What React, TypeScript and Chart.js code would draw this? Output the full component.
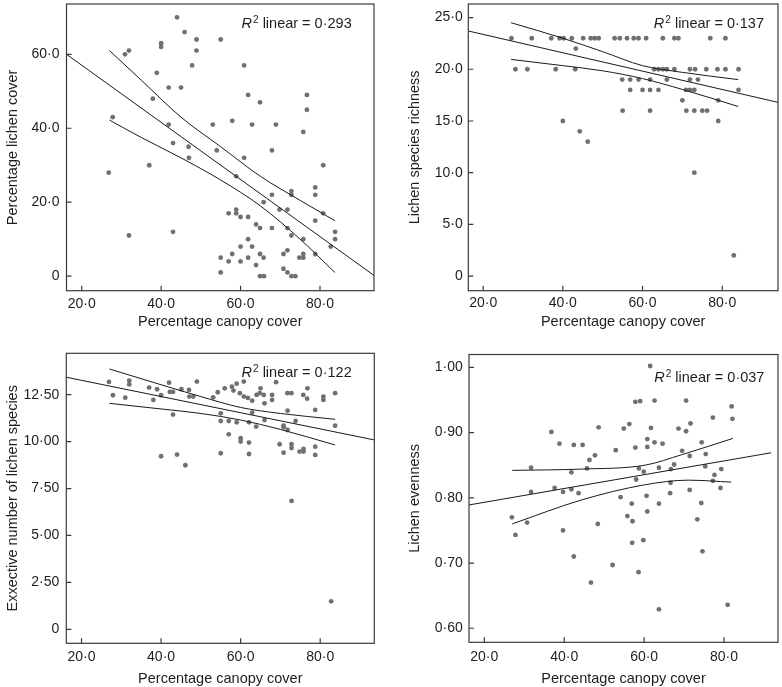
import React, { useEffect, useRef } from "react";
import { Chart, registerables } from "chart.js";

Chart.register(...registerables);

const FONT = '"Liberation Sans", Arial, Helvetica, sans-serif';
const TEXT = "#1e1e1e";
const POINT = "#707070";
const LINE = "#1a1a1a";
const FRAME = "#3a3a3a";

// ---------- shared x axis ----------
const X_TITLE = "Percentage canopy cover";
const X_TICKS = [20, 40, 60, 80];
const X_TICK_LABELS = ["20·0", "40·0", "60·0", "80·0"];

// ---------- panel 1: lichen cover ----------
const COVER_TITLE = "Percentage lichen cover";
const COVER_R2 = "0·293";
const COVER_Y_TICKS = [0, 20, 40, 60];
const COVER_Y_LABELS = ["0", "20·0", "40·0", "60·0"];
const COVER_POINTS: [number, number][] = [
  [44.0, 70], [45.9, 66], [48.9, 64], [48.9, 61], [40.0, 63], [40.0, 62], [30.9, 60], [31.9, 61],
  [47.8, 57], [38.9, 55], [41.9, 51], [45.0, 51], [37.9, 48], [27.8, 43], [41.9, 41], [43.0, 36],
  [46.9, 35], [47.0, 32], [37.0, 30], [26.8, 28], [43.0, 12], [31.9, 11],
  [55.0, 64], [60.9, 57], [61.9, 49], [64.9, 47], [76.7, 49], [76.7, 45], [57.9, 42], [53.0, 41],
  [62.9, 41], [68.9, 41], [75.8, 39], [54.0, 34], [67.9, 34], [60.9, 32], [80.8, 30], [58.9, 27],
  [78.8, 24], [78.8, 22], [72.8, 23], [72.8, 22], [67.9, 22], [65.8, 20], [69.8, 18], [71.8, 18],
  [80.8, 17], [57.0, 17], [58.9, 18], [58.9, 17], [60.0, 16], [61.9, 16], [63.9, 14], [64.9, 13],
  [67.9, 13], [71.8, 13], [78.8, 15], [72.8, 11], [83.8, 12], [83.8, 10], [75.8, 10], [82.7, 8],
  [61.9, 10], [60.0, 8], [62.9, 8], [71.8, 7], [70.8, 6], [64.9, 6], [65.8, 5], [75.8, 6],
  [74.8, 5], [75.8, 5], [78.8, 6], [55.0, 5], [57.0, 4], [57.9, 6], [60.0, 4], [61.9, 5],
  [63.9, 3], [55.0, 1], [64.9, 0], [65.9, 0], [70.8, 2], [71.8, 1], [72.8, 0], [73.8, 0],
];
const COVER_FIT_X = [16.17, 93.6];
const COVER_FIT_Y = [60.0, 0.2];
const COVER_BAND_X = [27, 35, 45, 55, 65, 75, 83.75];
const COVER_UPPER = [61, 53, 43, 35, 27, 20.5, 15];
const COVER_LOWER = [42.2, 37.5, 32, 26, 19, 10, 1];

// ---------- panel 2: species richness ----------
const RICH_TITLE = "Lichen species richness";
const RICH_R2 = "0·137";
const RICH_Y_TICKS = [0, 5, 10, 15, 20, 25];
const RICH_Y_LABELS = ["0", "5·0", "10·0", "15·0", "20·0", "25·0"];
const RICH_POINTS: [number, number][] = [
  [27.1, 23], [32.2, 23], [37.1, 23], [39.2, 23], [40.2, 23], [42.25, 23], [45.1, 23], [47, 23],
  [48, 23], [49, 23], [53, 23], [54.3, 23], [56.1, 23], [57.8, 23], [59, 23], [60.9, 23],
  [65.1, 23], [68, 23], [69, 23], [77, 23], [80.8, 23],
  [43.25, 22],
  [28.1, 20], [31.1, 20], [38.2, 20], [43.1, 20], [62.9, 20], [64, 20], [65.1, 20], [66.1, 20],
  [68, 20], [71.9, 20], [73.2, 20], [76, 20], [78.8, 20], [80.8, 20], [84.1, 20],
  [54.9, 19], [56.9, 19], [59, 19], [61.9, 19], [66.1, 19], [71.9, 19], [73.9, 19],
  [56.9, 18], [60, 18], [61.9, 18], [64, 18], [70.9, 18], [71.9, 18], [73, 18], [84.1, 18],
  [70, 17], [79, 17],
  [55, 16], [61.9, 16], [71, 16], [73, 16], [75, 16], [76.2, 16],
  [40, 15], [79, 15], [44.25, 14], [46.25, 13], [73, 10], [82.9, 2],
];
const RICH_FIT_X = [16.27, 94.0];
const RICH_FIT_Y = [23.7, 16.8];
const RICH_BAND_X = [27, 40, 50, 60, 70, 84];
const RICH_UPPER = [24.5, 23.0, 21.7, 20.35, 19.7, 19.0];
const RICH_LOWER = [20.95, 20.35, 19.85, 19.1, 18.05, 16.4];

// ---------- panel 3: effective number of species ----------
const EFF_TITLE = "Exxective number of lichen species";
const EFF_R2 = "0·122";
const EFF_Y_TICKS = [0, 2.5, 5, 7.5, 10, 12.5];
const EFF_Y_LABELS = ["0", "2·50", "5·00", "7·50", "10·00", "12·50"];
const EFF_POINTS: [number, number][] = [
  [26.9, 13.18], [27.9, 12.47], [31, 12.34], [32, 13.25], [32, 13.05], [37, 12.88], [39, 12.79],
  [38.05, 12.22], [40, 12.47], [42, 13.14], [42.2, 12.65], [43, 12.65], [43, 11.44], [45.1, 12.79],
  [47, 12.75], [47.1, 12.4], [48.1, 12.4], [49, 13.2], [40, 9.22], [44, 9.31], [46.1, 8.74],
  [53.1, 12.36], [54.25, 12.63], [56, 12.84], [59, 13.09], [60.8, 13.2], [57.8, 12.93], [58.2, 12.72],
  [59.8, 12.58], [60.8, 12.4], [61.8, 12.33], [62.9, 12.18], [65, 12.84], [64.8, 12.58], [64, 12.49],
  [65.8, 12.49], [66, 12.04], [67.9, 12.49], [67.9, 12.22], [68.9, 13.17], [71.75, 12.58],
  [72.75, 12.58], [76.8, 12.84], [75.75, 12.49], [76.7, 12.29], [80.8, 12.4], [80.8, 12.22],
  [83.75, 12.58],
  [55, 11.51], [55, 11.1], [57, 11.1], [59, 11.03], [57, 10.39], [60, 10.18], [60, 10.0],
  [62.1, 11.03], [62.1, 9.95], [62.9, 11.55], [63.9, 10.8], [66, 11.15], [71.8, 11.65],
  [70.8, 10.85], [70.8, 10.76], [71.8, 10.62], [73.8, 11.1], [78.75, 11.69], [83.75, 10.85],
  [69.8, 9.86], [70.8, 9.41], [72.8, 9.86], [72.8, 9.66], [74.8, 9.47], [75.8, 9.61], [75.8, 9.47],
  [78.75, 9.73], [78.75, 9.29], [55, 9.38], [62.1, 9.34], [72.8, 6.84], [82.75, 1.49],
];
const EFF_FIT_X = [16.17, 93.6];
const EFF_FIT_Y = [13.43, 10.09];
const EFF_BAND_X = [27, 40, 50, 60, 70, 83.75];
const EFF_UPPER = [13.87, 13.03, 12.4, 11.82, 11.5, 11.19];
const EFF_LOWER = [12.04, 11.74, 11.5, 11.15, 10.65, 9.82];

// ---------- panel 4: evenness ----------
const EVEN_TITLE = "Lichen evenness";
const EVEN_R2 = "0·037";
const EVEN_Y_TICKS = [0.6, 0.7, 0.8, 0.9, 1.0];
const EVEN_Y_LABELS = ["0·60", "0·70", "0·80", "0·90", "1·00"];
const EVEN_POINTS: [number, number][] = [
  [26.9, 0.77], [27.8, 0.743], [30.7, 0.762], [31.7, 0.846], [31.7, 0.809], [36.8, 0.901],
  [37.6, 0.815], [38.8, 0.883], [39.7, 0.809], [39.7, 0.75], [41.8, 0.839], [41.8, 0.813],
  [42.4, 0.881], [42.4, 0.71], [43.6, 0.807], [44.6, 0.881], [45.7, 0.845], [46.3, 0.858],
  [46.7, 0.67], [47.7, 0.865], [48.4, 0.76], [48.6, 0.908],
  [61.5, 1.002], [57.8, 0.947], [59.0, 0.948], [62.6, 0.949], [70.5, 0.949], [81.9, 0.94],
  [82.1, 0.921], [77.2, 0.923], [71.6, 0.914], [68.6, 0.906], [70.5, 0.902], [54.9, 0.906],
  [56.3, 0.913], [61.7, 0.907], [60.8, 0.89], [60.8, 0.878], [62.6, 0.885], [64.6, 0.883],
  [57.8, 0.877], [52.9, 0.873], [74.4, 0.885], [69.5, 0.872], [71.4, 0.864], [75.4, 0.867],
  [58.7, 0.845], [59.9, 0.84], [58.0, 0.828], [63.7, 0.846], [66.7, 0.844], [67.5, 0.851],
  [75.3, 0.848], [79.3, 0.844], [77.6, 0.835], [77.2, 0.826], [79.1, 0.815], [66.6, 0.823],
  [66.5, 0.807], [71.4, 0.812], [54.1, 0.801], [60.6, 0.803], [56.9, 0.791], [63.7, 0.791],
  [74.3, 0.792], [60.8, 0.779], [55.8, 0.772], [57.1, 0.764], [73.3, 0.767], [57.0, 0.731],
  [59.8, 0.735], [52.1, 0.697], [58.6, 0.686], [74.6, 0.718], [63.7, 0.629], [80.9, 0.636],
];
const EVEN_FIT_X = [16.17, 91.8];
const EVEN_FIT_Y = [0.789, 0.869];
const EVEN_UPPER_X = [27, 44.5, 60.25, 69.4, 82.2];
const EVEN_UPPER = [0.842, 0.844, 0.85, 0.866, 0.891];
const EVEN_LOWER_X = [27, 44.5, 60.25, 71, 81.8];
const EVEN_LOWER = [0.76, 0.797, 0.82, 0.827, 0.824];

type Box = { left: number; top: number; w: number; h: number };
type Area = { left: number; top: number; right: number; bottom: number };

type PanelSpec = {
  box: Box;
  area: Area;
  xRange: [number, number];
  yRange: [number, number];
  yTitle: string;
  yTicks: number[];
  yLabels: string[];
  points: [number, number][];
  lines: { xs: number[]; ys: number[]; curve: boolean }[];
  r2: string;
  r2RightInset: number;
  r2Baseline: number;
  yTitlePad: number;
  xTitlePad: number;
  xTickPad: number;
  yTickPad: number;
};

const PANELS: PanelSpec[] = [
  {
    box: { left: 0, top: 0, w: 391, h: 340 },
    area: { left: 66.5, top: 1, right: 374, bottom: 290.7 },
    xRange: [16.17, 93.6],
    yRange: [-3.93, 73.6],
    yTitle: COVER_TITLE,
    yTicks: COVER_Y_TICKS,
    yLabels: COVER_Y_LABELS,
    points: COVER_POINTS,
    lines: [
      { xs: COVER_FIT_X, ys: COVER_FIT_Y, curve: false },
      { xs: COVER_BAND_X, ys: COVER_UPPER, curve: true },
      { xs: COVER_BAND_X, ys: COVER_LOWER, curve: true },
    ],
    r2: COVER_R2,
    r2RightInset: 22.3,
    r2Baseline: 24.3,
    yTitlePad: 6,
    xTitlePad: 11,
    xTickPad: 6,
    yTickPad: 7,
  },
  {
    box: { left: 391, top: 0, w: 391, h: 340 },
    area: { left: 468.3, top: 1, right: 781, bottom: 290.7 },
    xRange: [16.27, 94.0],
    yRange: [-1.41, 26.31],
    yTitle: RICH_TITLE,
    yTicks: RICH_Y_TICKS,
    yLabels: RICH_Y_LABELS,
    points: RICH_POINTS,
    lines: [
      { xs: RICH_FIT_X, ys: RICH_FIT_Y, curve: false },
      { xs: RICH_BAND_X, ys: RICH_UPPER, curve: true },
      { xs: RICH_BAND_X, ys: RICH_LOWER, curve: true },
    ],
    r2: RICH_R2,
    r2RightInset: 14,
    r2Baseline: 24,
    yTitlePad: 16.75,
    xTitlePad: 11,
    xTickPad: 5.6,
    yTickPad: 5.6,
  },
  {
    box: { left: 0, top: 340, w: 391, h: 347 },
    area: { left: 66.3, top: 353.3, right: 374.3, bottom: 643.3 },
    xRange: [16.17, 93.6],
    yRange: [-0.746, 14.706],
    yTitle: EFF_TITLE,
    yTicks: EFF_Y_TICKS,
    yLabels: EFF_Y_LABELS,
    points: EFF_POINTS,
    lines: [
      { xs: EFF_FIT_X, ys: EFF_FIT_Y, curve: false },
      { xs: EFF_BAND_X, ys: EFF_UPPER, curve: true },
      { xs: EFF_BAND_X, ys: EFF_LOWER, curve: true },
    ],
    r2: EFF_R2,
    r2RightInset: 22.6,
    r2Baseline: 23.4,
    yTitlePad: 6,
    xTitlePad: 0.3,
    xTickPad: 6.4,
    yTickPad: 7,
  },
  {
    box: { left: 391, top: 340, w: 391, h: 347 },
    area: { left: 469, top: 354.5, right: 778.3, bottom: 642.3 },
    xRange: [16.17, 93.5],
    yRange: [0.5785, 1.0196],
    yTitle: EVEN_TITLE,
    yTicks: EVEN_Y_TICKS,
    yLabels: EVEN_Y_LABELS,
    points: EVEN_POINTS,
    lines: [
      { xs: EVEN_FIT_X, ys: EVEN_FIT_Y, curve: false },
      { xs: EVEN_UPPER_X, ys: EVEN_UPPER, curve: true },
      { xs: EVEN_LOWER_X, ys: EVEN_LOWER, curve: true },
    ],
    r2: EVEN_R2,
    r2RightInset: 13.6,
    r2Baseline: 27.2,
    yTitlePad: 16.75,
    xTitlePad: 0.3,
    xTickPad: 7.4,
    yTickPad: 6.3,
  },
];

function labelFor(ticks: number[], labels: string[], v: number): string {
  const i = ticks.findIndex((t) => Math.abs(t - v) < 1e-9);
  return i >= 0 ? labels[i] : "";
}

function buildConfig(p: PanelSpec): any {
  const yWidth = p.area.left - p.box.left;
  const padTop = p.area.top - p.box.top;
  const padRight = p.box.left + p.box.w - p.area.right;
  const xHeight = p.box.top + p.box.h - p.area.bottom;

  const frame = {
    id: "frameTicks",
    afterDatasetsDraw(chart: any) {
      const { ctx, chartArea: a, scales } = chart;
      ctx.save();
      ctx.strokeStyle = FRAME;
      ctx.lineWidth = 1.2;
      ctx.strokeRect(a.left, a.top, a.right - a.left, a.bottom - a.top);
      ctx.beginPath();
      scales.x.ticks.forEach((t: any) => {
        const px = scales.x.getPixelForValue(t.value);
        ctx.moveTo(px, a.bottom);
        ctx.lineTo(px, a.bottom - 5);
      });
      scales.y.ticks.forEach((t: any) => {
        const py = scales.y.getPixelForValue(t.value);
        ctx.moveTo(a.left, py);
        ctx.lineTo(a.left + 5, py);
      });
      ctx.stroke();
      ctx.restore();
    },
  };

  const r2Plugin = {
    id: "r2Label",
    afterDraw(chart: any) {
      const { ctx, chartArea: a } = chart;
      ctx.save();
      ctx.fillStyle = TEXT;
      ctx.textBaseline = "alphabetic";
      ctx.textAlign = "left";
      const fR = `italic 14.5px ${FONT}`;
      const fS = `10px ${FONT}`;
      const fM = `14.5px ${FONT}`;
      const rest = " linear = " + p.r2;
      ctx.font = fR;
      const wR = ctx.measureText("R").width;
      ctx.font = fS;
      const wS = ctx.measureText("2").width;
      ctx.font = fM;
      const wM = ctx.measureText(rest).width;
      let x = a.right - p.r2RightInset - (wR + 1 + wS + wM);
      const y = a.top + p.r2Baseline;
      ctx.font = fR;
      ctx.fillText("R", x, y);
      x += wR + 1;
      ctx.font = fS;
      ctx.fillText("2", x, y - 5);
      x += wS;
      ctx.font = fM;
      ctx.fillText(rest, x, y);
      ctx.restore();
    },
  };

  const datasets: any[] = [
    {
      data: p.points.map(([x, y]) => ({ x, y })),
      pointRadius: 2.4,
      pointBackgroundColor: POINT,
      pointBorderWidth: 0,
      showLine: false,
      order: 2,
    },
    ...p.lines.map((l) => ({
      data: l.xs.map((x, i) => ({ x, y: l.ys[i] })),
      showLine: true,
      pointRadius: 0,
      borderColor: LINE,
      borderWidth: 1,
      fill: false,
      cubicInterpolationMode: l.curve ? "monotone" : "default",
      order: 1,
    })),
  ];

  return {
    type: "scatter",
    data: { datasets },
    plugins: [frame, r2Plugin],
    options: {
      responsive: false,
      animation: false,
      devicePixelRatio: 1,
      layout: { padding: { top: padTop, right: padRight, left: 0, bottom: 0 } },
      plugins: { legend: { display: false }, tooltip: { enabled: false } },
      events: [],
      scales: {
        x: {
          type: "linear",
          min: p.xRange[0],
          max: p.xRange[1],
          grid: { display: false, drawTicks: false, tickLength: 0 },
          border: { display: false },
          afterBuildTicks: (s: any) => {
            s.ticks = X_TICKS.map((v) => ({ value: v }));
          },
          afterFit: (s: any) => {
            s.height = xHeight;
            s.paddingLeft = 0;
            s.paddingRight = 0;
          },
          ticks: {
            autoSkip: false,
            maxRotation: 0,
            padding: p.xTickPad,
            color: TEXT,
            font: { family: FONT, size: 14, lineHeight: 1 },
            callback: (v: number) => labelFor(X_TICKS, X_TICK_LABELS, v),
          },
          title: {
            display: true,
            text: X_TITLE,
            color: TEXT,
            font: { family: FONT, size: 14.5, lineHeight: 1 },
            padding: { top: 0, bottom: p.xTitlePad },
          },
        },
        y: {
          type: "linear",
          min: p.yRange[0],
          max: p.yRange[1],
          grid: { display: false, drawTicks: false, tickLength: 0 },
          border: { display: false },
          afterBuildTicks: (s: any) => {
            s.ticks = p.yTicks.map((v) => ({ value: v }));
          },
          afterFit: (s: any) => {
            s.width = yWidth;
            s.paddingTop = 0;
            s.paddingBottom = 0;
          },
          ticks: {
            autoSkip: false,
            padding: p.yTickPad,
            color: TEXT,
            font: { family: FONT, size: 14, lineHeight: 1 },
            callback: (v: number) => labelFor(p.yTicks, p.yLabels, v),
          },
          title: {
            display: true,
            text: p.yTitle,
            color: TEXT,
            font: { family: FONT, size: 14.5, lineHeight: 1 },
            padding: { top: p.yTitlePad, bottom: 0 },
          },
        },
      },
    },
  };
}

function Panel({ spec }: { spec: PanelSpec }) {
  const ref = useRef<HTMLCanvasElement | null>(null);
  useEffect(() => {
    if (!ref.current) return;
    const chart = new Chart(ref.current, buildConfig(spec));
    return () => chart.destroy();
  }, [spec]);
  return (
    <canvas
      ref={ref}
      width={spec.box.w}
      height={spec.box.h}
      style={{
        position: "absolute",
        left: spec.box.left,
        top: spec.box.top,
        width: spec.box.w,
        height: spec.box.h,
      }}
    />
  );
}

export default function App() {
  return (
    <div
      style={{
        position: "fixed",
        left: 0,
        top: 0,
        width: 782,
        height: 687,
        background: "#ffffff",
        overflow: "hidden",
      }}
    >
      {PANELS.map((p, i) => (
        <Panel key={i} spec={p} />
      ))}
    </div>
  );
}
